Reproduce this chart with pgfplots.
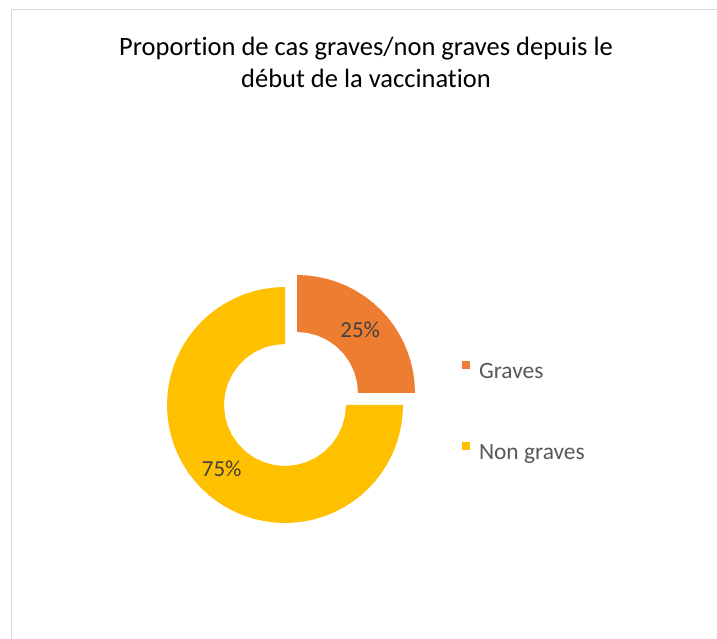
\documentclass[border=0pt]{standalone}
\usepackage{fontspec}
\setmainfont{Carlito}[Ligatures=NoCommon]
\usepackage{pgfplots}
\pgfplotsset{compat=1.18}
\usepgfplotslibrary{polar}
\definecolor{cOr}{HTML}{ED7D31}
\definecolor{cYe}{HTML}{FFC000}
\definecolor{cLab}{HTML}{404040}
\definecolor{cLeg}{HTML}{595959}
\definecolor{cBor}{HTML}{D9D9D9}
\begin{document}
\begin{tikzpicture}[x=1bp,y=1bp]
\path[use as bounding box] (0,0) rectangle (717,639);
\fill[white] (0,0) rectangle (717,639);
\draw[cBor, line width=1.5bp] (11.5,0) -- (11.5,629.5) -- (717,629.5);
\node[anchor=base, font=\fontsize{26.6}{32}\selectfont, text=black, inner sep=0pt] at (366,583) {Proportion de cas graves/non graves depuis le};
\node[anchor=base, font=\fontsize{26.6}{32}\selectfont, text=black, inner sep=0pt] at (366,551) {début de la vaccination};
\pgfplotsset{donut/.style={hide axis, scale only axis, width=236bp, height=236bp, ymin=0, ymax=118, xmin=0, xmax=360, clip=false, anchor=center}}
% Graves (exploded)
\begin{polaraxis}[donut, at={(297,246)}]
\addplot[fill=cOr, draw=none] coordinates {
(90,118)(85,118)(80,118)(75,118)(70,118)(65,118)(60,118)(55,118)(50,118)(45,118)
(40,118)(35,118)(30,118)(25,118)(20,118)(15,118)(10,118)(5,118)(0,118)
(0,61)(10,61)(20,61)(30,61)(40,61)(50,61)(60,61)(70,61)(80,61)(90,61)} -- cycle;
\node[font=\fontsize{23}{27}\selectfont, text=cLab] at (axis cs:45,89.5) {25\%};
\end{polaraxis}
% Non graves
\begin{polaraxis}[donut, at={(285,234)},
  legend cell align=left,
  legend style={at={(axis description cs:1.25,0.686)}, anchor=north west, draw=none, fill=none,
    inner sep=0pt, outer sep=0pt, row sep=59bp, font=\fontsize{23.5}{28}\selectfont, text=cLeg,
    nodes={inner sep=0pt, text height=17bp, text depth=5bp}}]
\addlegendimage{fill=cOr, draw=none, legend image code/.code={\path[draw=none,fill=none] (0bp,0bp) rectangle (17bp,0bp); \fill[cOr] (0bp,3bp) rectangle (8bp,11bp);}}
\addlegendentry{Graves}
\addplot[fill=cYe, draw=none, legend image code/.code={\path[draw=none,fill=none] (0bp,0bp) rectangle (17bp,0bp); \fill[cYe] (0bp,3bp) rectangle (8bp,11bp);}] coordinates {
(360,118)(355,118)(350,118)(345,118)(340,118)(335,118)(330,118)(325,118)(320,118)(315,118)
(310,118)(305,118)(300,118)(295,118)(290,118)(285,118)(280,118)(275,118)(270,118)(265,118)
(260,118)(255,118)(250,118)(245,118)(240,118)(235,118)(230,118)(225,118)(220,118)(215,118)
(210,118)(205,118)(200,118)(195,118)(190,118)(185,118)(180,118)(175,118)(170,118)(165,118)
(160,118)(155,118)(150,118)(145,118)(140,118)(135,118)(130,118)(125,118)(120,118)(115,118)
(110,118)(105,118)(100,118)(95,118)(90,118)
(90,61)(100,61)(110,61)(120,61)(130,61)(140,61)(150,61)(160,61)(170,61)(180,61)
(190,61)(200,61)(210,61)(220,61)(230,61)(240,61)(250,61)(260,61)(270,61)(280,61)
(290,61)(300,61)(310,61)(320,61)(330,61)(340,61)(350,61)(360,61)} -- cycle;
\addlegendentry{Non graves}
\node[font=\fontsize{23}{27}\selectfont, text=cLab] at (axis cs:225,89.5) {75\%};
\end{polaraxis}
\end{tikzpicture}
\end{document}
